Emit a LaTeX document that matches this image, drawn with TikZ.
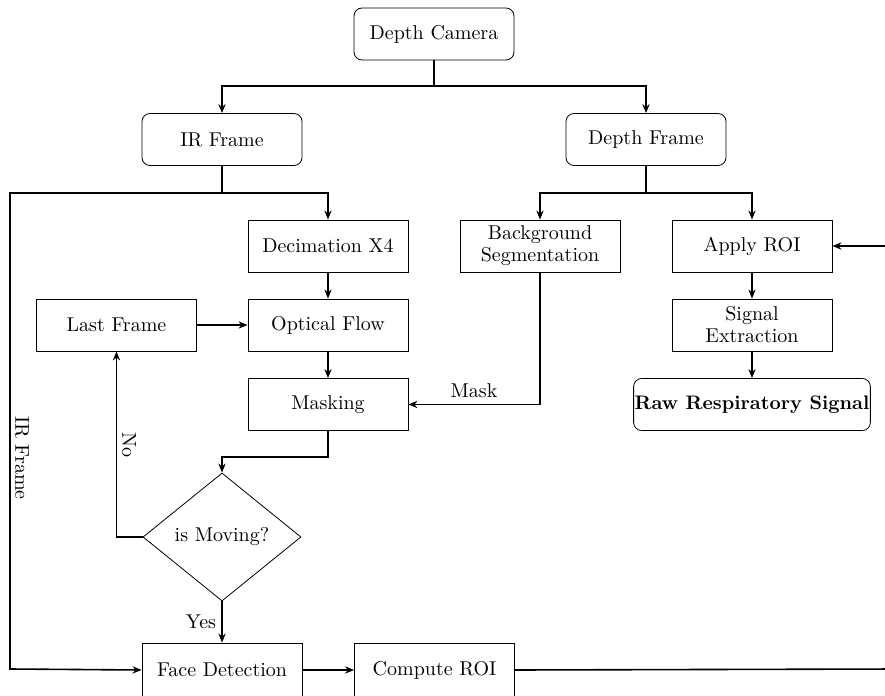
\documentclass[tikz,border=0pt]{standalone}
\usetikzlibrary{shapes.geometric,arrows.meta}
\begin{document}
\begin{tikzpicture}[x=0.5pt,y=-0.5pt,
  box/.style={draw,rectangle,minimum width=80pt,minimum height=26pt,inner sep=2pt,align=center,font=\normalsize},
  rbox/.style={box,rounded corners=4pt},
  dec/.style={draw,diamond,aspect=1.234,minimum width=79pt,minimum height=64pt,inner sep=0pt},
  conn/.style={thick,-{Stealth[length=4.5pt,width=3.6pt]}},
  wire/.style={thick},
  lbl/.style={inner sep=1pt}]
\useasboundingbox (0,0) rectangle (885,696);
\clip (0,0) rectangle (885,696);
\node[rbox] (cam) at (434,34) {Depth Camera};
\node[rbox] (ir) at (222,139.5) {IR Frame};
\node[rbox] (df) at (646,139.5) {Depth Frame};
\node[box] (decim) at (328,246) {Decimation X4};
\node[box] (of) at (328,325) {Optical Flow};
\node[box] (mask) at (328,404.5) {Masking};
\node[box] (last) at (116.5,325) {Last Frame};
\node[box] (bg) at (540,246) {Background\\[-1pt]Segmentation};
\node[box] (aroi) at (752,246) {Apply ROI};
\node[box] (sig) at (752,325) {Signal\\[-1pt]Extraction};
\node[rbox,inner xsep=0.5pt,inner ysep=3pt,font=\fontsize{9.8}{12}\selectfont\bfseries] (raw) at (752,404.5) {Raw Respiratory Signal};
\node[dec] (mov) at (222,537) {is Moving?};
\node[box,minimum height=27pt] (face) at (222,670) {Face Detection};
\node[box,minimum height=27pt] (croi) at (434.5,670) {Compute ROI};
\coordinate (r1) at (900,669);
\coordinate (r2) at (900,246);
% labels
\node[lbl,rotate=-90] (lir) at (22,458) {IR Frame};
\node[lbl,rotate=-90] (lno) at (129,445) {No};
\node[lbl] (lmask) at (474,391) {Mask};
\node[lbl] (lyes) at (201,622) {Yes};
% camera split
\draw[wire] (cam.south) -- (434,86) -| (222,100);
\draw[conn] (222,86) -- (ir.north);
\draw[wire] (434,86) -| (646,100);
\draw[conn] (646,86) -- (df.north);
% IR frame branches
\draw[wire] (ir.south) -- (222,193) -| (328,200);
\draw[conn] (328,193) -- (decim.north);
\draw[conn] (222,193) -- (10,193) -- (10,669) -- (face.west);
% depth frame branches
\draw[wire] (df.south) -- (646,193) -| (540,200);
\draw[conn] (540,193) -- (bg.north);
\draw[wire] (646,193) -| (752,200);
\draw[conn] (752,193) -- (aroi.north);
% left chain
\draw[conn] (decim) -- (of);
\draw[conn] (of) -- (mask);
\draw[conn] (last) -- (of);
\draw[conn] (bg.south) |- (mask.east);
\draw[conn] (mask.south) -- (328,457) -| (mov.north);
\draw[conn] (mov.west) -| (last.south);
\draw[conn] (mov.south) -- (face.north);
\draw[conn] (face) -- (croi);
\draw[conn] (croi.east) -- (r1) -- (r2) -- (aroi.east);
% right chain
\draw[conn] (aroi) -- (sig);
\draw[conn] (sig) -- (raw);
\end{tikzpicture}
\end{document}
